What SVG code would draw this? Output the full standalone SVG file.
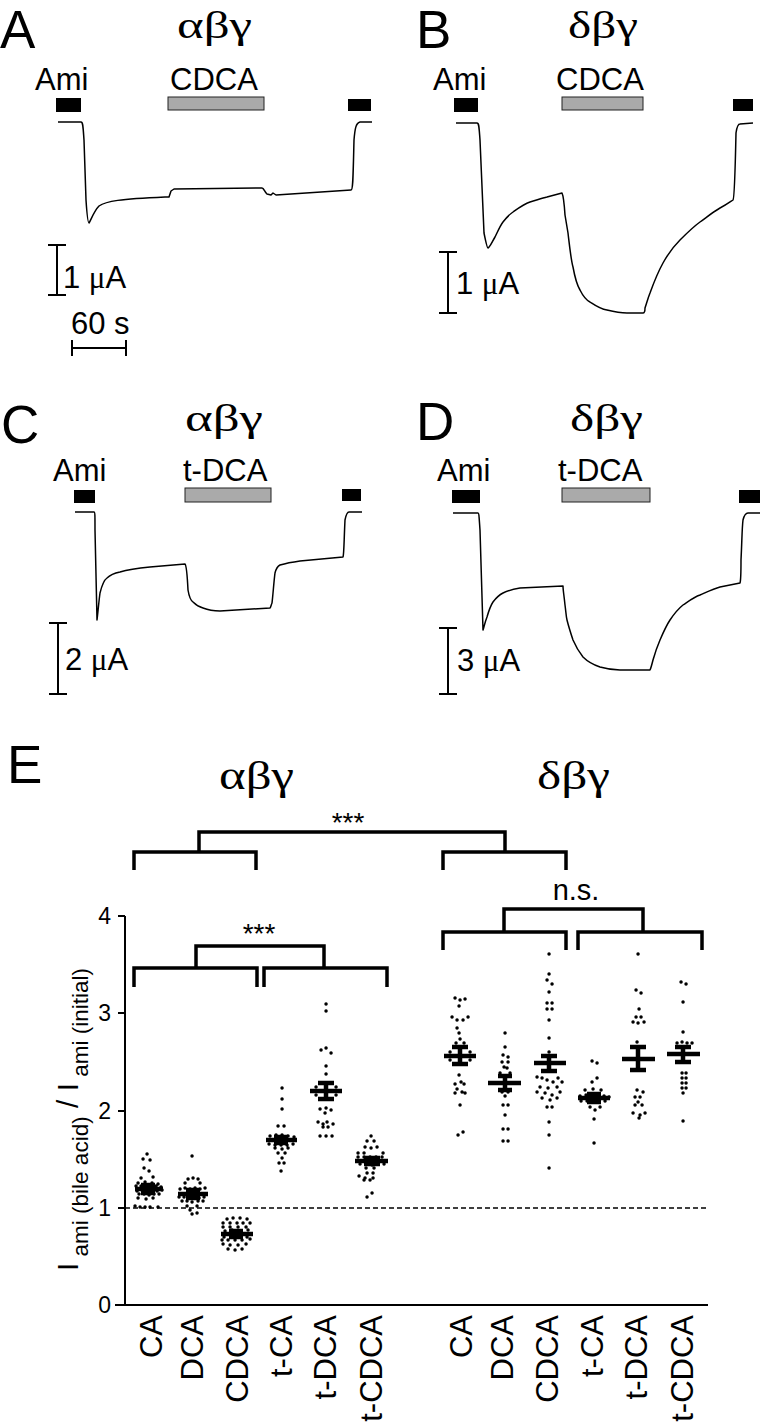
<svg xmlns="http://www.w3.org/2000/svg" width="760" height="1424" viewBox="0 0 760 1424">
<style>
.s{font-family:'Liberation Sans',Arial,sans-serif;fill:#000}
.g{font-family:'Liberation Serif','Times New Roman',serif;fill:#000}
.lab{font-size:53px}
.sm{font-size:31px}
.gr{font-size:37px}
.tr{fill:none;stroke:#000;stroke-width:1.5;stroke-linejoin:round}
.bk{fill:#000}
.gy{fill:#aaaaaa;stroke:#222;stroke-width:1}
.sb{fill:none;stroke:#000;stroke-width:2}
.br{fill:none;stroke:#000;stroke-width:3.5;stroke-linejoin:miter}
.dot{fill:none;stroke:#000;stroke-width:3.4;stroke-linecap:round}
.ms{fill:none;stroke:#000;stroke-width:4.5}
.ax{fill:none;stroke:#000;stroke-width:2}
.tk{font-size:23px}
.xl{font-size:31px}
</style>
<rect width="760" height="1424" fill="#fff"/>

<g id="panelA">
<text class="s lab" x="0" y="48">A</text>
<text class="g gr" x="177" y="38" textLength="75" lengthAdjust="spacingAndGlyphs">αβγ</text>
<text class="s sm" x="35" y="90">Ami</text>
<text class="s sm" x="170" y="90">CDCA</text>
<rect class="bk" x="56" y="98" width="25" height="14"/>
<rect class="gy" x="168" y="97" width="96" height="13"/>
<rect class="bk" x="348" y="99" width="23" height="12"/>
<path class="tr" d="M58,122 H81 C83,122 83,126 84,140 L86,200 C87,215 88,223 89,223 C91,220 94,211 99,206 C106,201 120,199 165,197 L169,197 L171,191 L174,189 L262,188 C264,188 265,193 267,194 L271,195 L273,193 L276,195 L351,190 C353,190 353,180 354,140 C355,128 356,123 360,122 L372,122"/>
<path class="sb" d="M57,245 V295 M48,245 H66 M48,295 H66"/>
<text class="s sm" x="63" y="288">1 <tspan class="g">μ</tspan>A</text>
<text class="s sm" x="71" y="334">60 s</text>
<path class="sb" d="M72,348 H126 M72,340 V356 M126,340 V356"/>
</g>

<g id="panelB">
<text class="s lab" x="416" y="48">B</text>
<text class="g gr" x="568" y="38" textLength="70" lengthAdjust="spacingAndGlyphs">δβγ</text>
<text class="s sm" x="433" y="90">Ami</text>
<text class="s sm" x="556" y="90">CDCA</text>
<rect class="bk" x="454" y="98" width="24" height="14"/>
<rect class="gy" x="562" y="97" width="81" height="13"/>
<rect class="bk" x="733" y="99" width="20" height="12"/>
<path class="tr" d="M456,123 H477 C479,123 479,126 480,140 L484,233 C486,243 487,248 488,248 C490,247 492,242 495,237 C498,231 500,226 503,222 C507,217 510,214 513,212 C520,207 524,204 530,202 C537,200 542,198 547,197 L562,193 C563,195 564,200 565,215 L568,233 C570,250 571,260 573,267 C575,278 577,285 580,290 C583,296 586,300 590,302 C596,306 600,309 607,310 C615,312 620,313 627,313 L643,313 C644,313 645,311 645,308 C647,302 648,298 650,293 C654,282 658,272 663,263 C668,254 673,247 680,240 C687,233 693,227 700,222 C707,217 713,212 720,208 C726,205 730,202 733,200 C734,199 735,180 736,133 C737,126 738,124 740,124 L753,123"/>
<path class="sb" d="M448,252 V313 M439,252 H457 M439,313 H457"/>
<text class="s sm" x="456" y="294">1 <tspan class="g">μ</tspan>A</text>
</g>

<g id="panelC">
<text class="s lab" x="1" y="443">C</text>
<text class="g gr" x="185" y="431" textLength="78" lengthAdjust="spacingAndGlyphs">αβγ</text>
<text class="s sm" x="53" y="481">Ami</text>
<text class="s sm" x="183" y="481">t-DCA</text>
<rect class="bk" x="74" y="490" width="21" height="13"/>
<rect class="gy" x="185" y="488" width="86" height="14"/>
<rect class="bk" x="342" y="489" width="19" height="12"/>
<path class="tr" d="M75,512 H94 C95,512 95,515 95,530 L97,620 C98,612 99,600 100,593 C102,585 104,580 107,578 C111,574 115,573 120,572 C130,569 140,568 150,567 L185,564 C186,565 187,570 188,590 C189,596 190,600 193,602 C196,605 199,607 203,608 C208,610 213,611 220,611 L270,608 C271,607 271,605 272,603 C273,595 274,580 275,573 C276,569 278,566 280,565 C287,563 293,562 300,561 L343,557 C344,555 344,540 345,520 C346,515 347,512 349,512 L362,512"/>
<path class="sb" d="M58,623 V694 M49,623 H67 M49,694 H67"/>
<text class="s sm" x="65" y="670">2 <tspan class="g">μ</tspan>A</text>
</g>

<g id="panelD">
<text class="s lab" x="416" y="440">D</text>
<text class="g gr" x="570" y="431" textLength="73" lengthAdjust="spacingAndGlyphs">δβγ</text>
<text class="s sm" x="437" y="481">Ami</text>
<text class="s sm" x="558" y="481">t-DCA</text>
<rect class="bk" x="452" y="490" width="28" height="13"/>
<rect class="gy" x="562" y="488" width="88" height="14"/>
<rect class="bk" x="739" y="490" width="21" height="13"/>
<path class="tr" d="M453,513 H478 C479,513 479,516 480,530 L483,630 C484,627 485,622 487,617 C489,610 491,605 493,602 C496,598 499,595 503,593 C509,590 514,589 520,588 L563,586 C563,590 564,595 565,605 C566,612 566,616 567,620 C569,628 571,634 573,640 C576,647 579,652 583,657 C588,662 594,665 600,667 C607,669 613,670 620,670 L650,670 C651,668 652,664 653,660 C655,653 657,647 660,640 C663,633 666,626 670,620 C674,614 678,609 683,605 C689,601 694,597 700,595 C707,592 713,589 720,587 L740,583 C741,580 741,570 741,560 C742,540 742,528 743,520 C744,516 746,513 748,513 L760,513"/>
<path class="sb" d="M448,628 V694 M439,628 H457 M439,694 H457"/>
<text class="s sm" x="457" y="671">3 <tspan class="g">μ</tspan>A</text>
</g>

<g id="panelE">
<text class="s lab" x="7" y="783">E</text>
<text class="g" font-size="39" x="219" y="789" textLength="75" lengthAdjust="spacingAndGlyphs">αβγ</text>
<text class="g" font-size="39" x="537" y="789" textLength="73" lengthAdjust="spacingAndGlyphs">δβγ</text>

<g id="brackets">
<text class="s" font-size="28" x="348" y="832" text-anchor="middle">***</text>
<path class="br" d="M199,852 V832 H505 V852"/>
<path class="br" d="M134,870 V852 H256 V870"/>
<path class="br" d="M443,870 V852 H566 V870"/>
<text class="s" font-size="29" x="576" y="900" text-anchor="middle">n.s.</text>
<path class="br" d="M504,932 V909 H643 V932"/>
<path class="br" d="M443,950 V932 H566 V950"/>
<path class="br" d="M578,950 V932 H702 V950"/>
<text class="s" font-size="28" x="259" y="943" text-anchor="middle">***</text>
<path class="br" d="M196,968 V946 H324 V968"/>
<path class="br" d="M134,987 V968 H257 V987"/>
<path class="br" d="M264,987 V968 H387 V987"/>
</g>

<g id="axes">
<path class="ax" d="M125,916 V1305 H708"/>
<path class="ax" d="M118,916 H125 M118,1013 H125 M118,1111 H125 M118,1208 H125 M115,1305 H125"/>
<text class="s tk" x="111" y="924" text-anchor="end">4</text>
<text class="s tk" x="111" y="1021" text-anchor="end">3</text>
<text class="s tk" x="111" y="1119" text-anchor="end">2</text>
<text class="s tk" x="111" y="1216" text-anchor="end">1</text>
<text class="s tk" x="111" y="1313" text-anchor="end">0</text>
<path d="M125,1208 H706" fill="none" stroke="#000" stroke-width="1.6" stroke-dasharray="5,3"/>
<text class="s" transform="translate(78,1271) rotate(-90)"><tspan font-size="30">I</tspan><tspan font-size="22.5" dy="10"> ami (bile acid)</tspan><tspan font-size="30" dy="-10"> / I</tspan><tspan font-size="22.5" dy="10"> ami (initial)</tspan></text>
</g>

<g id="xlabels" class="s xl" text-anchor="end">
<text transform="translate(162,1315) rotate(-90)">CA</text>
<text transform="translate(203,1315) rotate(-90)">DCA</text>
<text transform="translate(248,1315) rotate(-90)">CDCA</text>
<text transform="translate(292,1315) rotate(-90)">t-CA</text>
<text transform="translate(336,1315) rotate(-90)">t-DCA</text>
<text transform="translate(382,1315) rotate(-90)">t-CDCA</text>
<text transform="translate(472,1315) rotate(-90)">CA</text>
<text transform="translate(513,1315) rotate(-90)">DCA</text>
<text transform="translate(558,1315) rotate(-90)">CDCA</text>
<text transform="translate(603,1315) rotate(-90)">t-CA</text>
<text transform="translate(647,1315) rotate(-90)">t-DCA</text>
<text transform="translate(693,1315) rotate(-90)">t-CDCA</text>
</g>

<g id="data">
<path class="dot" d="M147,1154h.1M143,1159h.1M150,1160h.1M144,1168h.1M149,1171h.1M141,1178h.1M153,1177h.1M138,1183h.1M145,1182h.1M152,1183h.1M158,1184h.1M136,1186h.1M141,1186h.1M146,1186h.1M151,1187h.1M156,1186h.1M161,1187h.1M137,1191h.1M142,1190h.1M147,1191h.1M152,1190h.1M157,1191h.1M162,1190h.1M139,1194h.1M144,1194h.1M149,1195h.1M154,1194h.1M159,1194h.1M138,1198h.1M146,1199h.1M153,1198h.1M135,1206h.1M140,1207h.1M145,1207h.1M150,1207h.1M158,1207h.1"/>
<path class="ms" d="M135,1189H163M141,1185H155M141,1193H155M148,1185V1193"/>

<path class="dot" d="M192,1156h.1M188,1179h.1M193,1178h.1M198,1179h.1M185,1183h.1M200,1183h.1M180,1189h.1M185,1188h.1M190,1189h.1M195,1188h.1M200,1189h.1M205,1188h.1M179,1197h.1M184,1197h.1M189,1198h.1M194,1197h.1M199,1198h.1M204,1197h.1M182,1201h.1M187,1201h.1M192,1202h.1M198,1201h.1M203,1201h.1M187,1206h.1M197,1206h.1M190,1210h.1M192,1214h.1M197,1213h.1"/>
<path class="ms" d="M178,1194H208M186,1190H200M186,1198H200M193,1190V1198"/>

<path class="dot" d="M227,1219h.1M233,1218h.1M240,1218h.1M247,1219h.1M223,1223h.1M230,1223h.1M237,1223h.1M243,1223h.1M250,1223h.1M223,1227h.1M230,1227h.1M238,1227h.1M246,1227h.1M225,1231h.1M232,1230h.1M240,1231h.1M248,1230h.1M224,1237h.1M231,1237h.1M239,1237h.1M247,1237h.1M222,1240h.1M228,1240h.1M235,1240h.1M242,1240h.1M250,1239h.1M223,1244h.1M230,1245h.1M238,1245h.1M246,1244h.1M228,1249h.1M235,1250h.1M242,1249h.1"/>
<path class="ms" d="M221,1234H253M229,1231H243M229,1237H243M236,1231V1237"/>

<path class="dot" d="M282,1088h.1M282,1099h.1M282,1109h.1M278,1126h.1M284,1126h.1M270,1136h.1M276,1135h.1M282,1135h.1M288,1136h.1M294,1137h.1M269,1144h.1M275,1145h.1M281,1145h.1M287,1145h.1M293,1144h.1M275,1148h.1M282,1149h.1M288,1148h.1M278,1153h.1M285,1153h.1M282,1158h.1M279,1163h.1M284,1163h.1M281,1171h.1"/>
<path class="ms" d="M266,1140H297M274,1137H288M274,1143H288M281,1137V1143"/>

<path class="dot" d="M326,1004h.1M326,1011h.1M321,1050h.1M326,1048h.1M331,1053h.1M326,1066h.1M326,1074h.1M316,1087h.1M336,1087h.1M316,1095h.1M336,1095h.1M320,1109h.1M326,1108h.1M331,1110h.1M325,1113h.1M318,1122h.1M323,1124h.1M327,1122h.1M333,1124h.1M323,1127h.1M328,1127h.1M320,1136h.1M326,1136h.1M332,1136h.1"/>
<path class="ms" d="M310,1091H342M318,1083H334M318,1099H334M326,1083V1099"/>

<path class="dot" d="M371,1136h.1M367,1141h.1M374,1141h.1M365,1147h.1M371,1148h.1M377,1147h.1M358,1153h.1M364,1153h.1M383,1153h.1M358,1157h.1M364,1157h.1M370,1157h.1M376,1157h.1M382,1157h.1M360,1164h.1M366,1164h.1M372,1165h.1M378,1164h.1M384,1164h.1M366,1168h.1M374,1168h.1M367,1173h.1M373,1173h.1M359,1176h.1M365,1178h.1M373,1178h.1M364,1180h.1M370,1180h.1M372,1193h.1M367,1197h.1"/>
<path class="ms" d="M355,1161H388M364,1158H380M364,1164H380M372,1158V1164"/>

<path class="dot" d="M455,998h.1M460,1000h.1M465,999h.1M459,1006h.1M452,1017h.1M457,1020h.1M463,1020h.1M468,1017h.1M457,1028h.1M459,1033h.1M460,1039h.1M456,1043h.1M464,1043h.1M450,1052h.1M470,1052h.1M450,1060h.1M470,1060h.1M459,1075h.1M461,1082h.1M455,1084h.1M464,1084h.1M457,1089h.1M462,1092h.1M455,1093h.1M465,1093h.1M460,1105h.1M463,1132h.1M458,1135h.1"/>
<path class="ms" d="M444,1056H476M452,1047H468M452,1064H468M460,1047V1064"/>

<path class="dot" d="M505,1033h.1M505,1047h.1M503,1055h.1M508,1057h.1M502,1062h.1M508,1062h.1M504,1067h.1M507,1068h.1M500,1073h.1M510,1073h.1M502,1092h.1M508,1092h.1M505,1096h.1M503,1105h.1M508,1105h.1M505,1115h.1M503,1129h.1M508,1129h.1M503,1141h.1M508,1141h.1"/>
<path class="ms" d="M488,1083H521M498,1076H512M498,1090H512M505,1076V1090"/>

<path class="dot" d="M549,954h.1M549,974h.1M547,980h.1M552,984h.1M549,992h.1M547,1003h.1M552,1003h.1M547,1009h.1M552,1009h.1M549,1020h.1M549,1038h.1M549,1052h.1M537,1077h.1M542,1078h.1M547,1080h.1M553,1082h.1M558,1078h.1M562,1082h.1M540,1087h.1M548,1088h.1M557,1087h.1M537,1092h.1M545,1093h.1M552,1095h.1M560,1092h.1M542,1098h.1M550,1100h.1M557,1098h.1M547,1107h.1M552,1107h.1M549,1122h.1M549,1135h.1M549,1168h.1"/>
<path class="ms" d="M534,1063H566M541,1056H557M541,1071H557M549,1056V1071"/>

<path class="dot" d="M592,1061h.1M597,1063h.1M597,1078h.1M592,1082h.1M585,1090h.1M593,1089h.1M601,1090h.1M580,1096h.1M586,1095h.1M592,1095h.1M598,1095h.1M604,1096h.1M609,1097h.1M581,1101h.1M587,1101h.1M593,1102h.1M599,1101h.1M605,1101h.1M590,1107h.1M595,1110h.1M600,1107h.1M594,1119h.1M594,1143h.1"/>
<path class="ms" d="M578,1098H610M587,1094H601M587,1102H601M594,1094V1102"/>

<path class="dot" d="M638,954h.1M636,990h.1M641,993h.1M639,1009h.1M636,1017h.1M641,1017h.1M633,1022h.1M638,1023h.1M644,1022h.1M637,1042h.1M637,1090h.1M643,1092h.1M635,1097h.1M640,1097h.1M638,1102h.1M635,1105h.1M642,1105h.1M633,1113h.1M640,1115h.1M645,1113h.1M639,1118h.1"/>
<path class="ms" d="M622,1059H655M630,1047H646M630,1070H646M638,1047V1070"/>

<path class="dot" d="M681,982h.1M686,984h.1M683,1002h.1M683,1032h.1M677,1043h.1M682,1042h.1M687,1043h.1M692,1043h.1M682,1073h.1M686,1073h.1M682,1078h.1M686,1078h.1M682,1083h.1M686,1083h.1M682,1088h.1M686,1088h.1M683,1093h.1M683,1121h.1"/>
<path class="ms" d="M667,1054H700M675,1047H691M675,1062H691M683,1047V1062"/>
</g>
</g>
</svg>
